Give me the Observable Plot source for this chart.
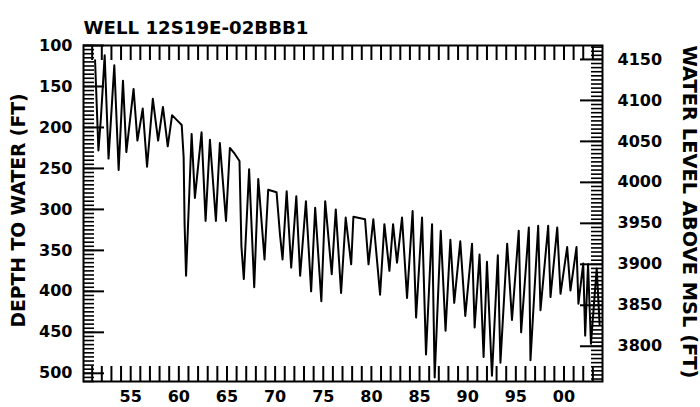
<!DOCTYPE html>
<html><head><meta charset="utf-8">
<script src="https://cdn.jsdelivr.net/npm/d3@7"></script>
<script src="https://cdn.jsdelivr.net/npm/@observablehq/plot@0.6"></script>
<style>html,body{margin:0;padding:0;background:#fff} svg{display:block}</style>
</head><body><div id="chart"></div>
<script>
const title = "WELL 12S19E-02BBB1";
const leftLabel = "DEPTH TO WATER (FT)";
const rightLabel = "WATER LEVEL ABOVE MSL (FT)";
const landSurface = 4267;

const dates = [
  1951.30,1951.65,1951.90,1952.30,1952.70,1953.30,1953.75,1954.20,1954.55,1955.30,
  1955.70,1956.25,1956.70,1957.30,1957.85,1958.35,1958.85,1959.30,1959.80,1960.30,
  1960.50,1960.60,1960.75,1961.33,1961.67,1962.36,1962.78,1963.23,1963.85,1964.26,
  1964.90,1965.30,1965.80,1966.30,1966.50,1966.75,1967.30,1967.83,1968.25,1968.90,
  1969.28,1970.15,1970.50,1970.77,1971.20,1971.67,1972.20,1972.60,1973.20,1973.74,
  1974.16,1974.80,1975.20,1975.88,1976.30,1976.85,1977.33,1977.90,1978.13,1979.34,
  1979.70,1980.20,1980.90,1981.35,1981.87,1982.25,1982.66,1983.18,1983.70,1984.28,
  1984.64,1985.26,1985.67,1986.30,1986.57,1987.20,1987.70,1988.20,1988.60,1989.23,
  1989.75,1990.45,1990.72,1991.23,1991.65,1992.00,1992.52,1993.13,1993.40,1994.10,
  1994.60,1995.30,1995.55,1996.35,1996.52,1997.32,1997.56,1998.36,1998.60,1999.30,
  1999.64,2000.33,2000.67,2001.30,2001.50,2002.00,2002.20,2002.50,2002.80,2003.10,
  2003.40,2003.70
];
const depths = [
  118,228,190,112,238,124,252,143,230,153,
  216,177,248,165,216,175,223,185,191,197,
  236,318,381,208,286,206,314,215,314,219,
  314,225,232,241,345,385,251,395,263,361,
  276,279,330,361,278,371,284,381,290,400,
  298,412,290,379,300,402,310,367,309,312,
  367,312,404,318,375,318,365,310,408,302,
  432,310,477,318,505,326,448,337,414,339,
  430,342,444,355,480,364,503,356,487,342,
  435,326,450,322,484,320,423,320,407,322,
  403,346,399,346,415,366,454,367,464,418,
  372,440
];

const yearTicks = d3.range(1951, 2004);
const yearLabels = d3.range(1955, 2001, 5);
const depthMajor = d3.range(100, 501, 50);
const depthMinor = d3.range(100, 511, 5);
const wlMajor = d3.range(3800, 4151, 50);
const wlMinor = d3.range(3760, 4166, 5);

const W = 700, H = 407, mL = 83, mR = 98, mT = 45, mB = 26;
const innerW = W - mL - mR, innerH = H - mT - mB;
const data = dates.map((d, i) => ({date: d, depth: depths[i]}));

const chart = Plot.plot({
  width: W, height: H,
  marginLeft: mL, marginRight: mR, marginTop: mT, marginBottom: mB,
  style: {fontFamily: "DejaVu Sans", fontWeight: "bold", fontSize: "16px", color: "#000", background: "#fff"},
  x: {domain: [1950.1, 2004]},
  y: {domain: [100, 510], reverse: true},
  marks: [
    Plot.line(data, {x: "date", y: "depth", stroke: "#000", strokeWidth: 2}),
    Plot.tickX(yearTicks, {x: d => d, insetTop: innerH - 15, stroke: "#000", strokeWidth: 2}),
    Plot.tickX(yearTicks, {x: d => d, insetBottom: innerH - 15, stroke: "#000", strokeWidth: 2}),
    Plot.tickY(depthMinor, {y: d => d, insetRight: innerW - 11, stroke: "#000", strokeWidth: 1.6}),
    Plot.tickY(depthMajor, {y: d => d, insetRight: innerW - 21, stroke: "#000", strokeWidth: 2}),
    Plot.tickY(wlMinor, {y: w => landSurface - w, insetLeft: innerW - 11, stroke: "#000", strokeWidth: 1.6}),
    Plot.tickY(wlMajor, {y: w => landSurface - w, insetLeft: innerW - 22, stroke: "#000", strokeWidth: 2}),
    Plot.frame({stroke: "#000", strokeWidth: 2}),
    Plot.axisY(depthMajor, {anchor: "left", tickSize: 0, tickPadding: 11, label: null}),
    Plot.axisY(wlMajor.map(w => landSurface - w), {anchor: "right", tickSize: 0, tickPadding: 15, label: null, tickFormat: d => String(landSurface - d)}),
    Plot.axisX(yearLabels, {anchor: "bottom", tickSize: 0, tickPadding: 9, label: null, tickFormat: d => String(d % 100).padStart(2, "0")}),
    Plot.text([title], {text: d => d, frameAnchor: "top-left", dy: -23.5, textAnchor: "start", fontSize: 17, fill: "#000"}),
    Plot.text([leftLabel], {text: d => d, frameAnchor: "left", rotate: -90, dx: -65, dy: 114, textAnchor: "start", fontSize: 19, fill: "#000"}),
    Plot.text([rightLabel], {text: d => d, frameAnchor: "right", rotate: 90, dx: 87, dy: -168, textAnchor: "start", fontSize: 19, fill: "#000"})
  ]
});
document.getElementById("chart").appendChild(chart);

const lengths = {[title]: 225, [leftLabel]: 234, [rightLabel]: 333};
d3.select(chart).selectAll("text").each(function() {
  const t = this.textContent;
  if (lengths[t]) {
    this.setAttribute("textLength", lengths[t]);
    this.setAttribute("lengthAdjust", "spacingAndGlyphs");
  }
});
</script>
</body></html>
